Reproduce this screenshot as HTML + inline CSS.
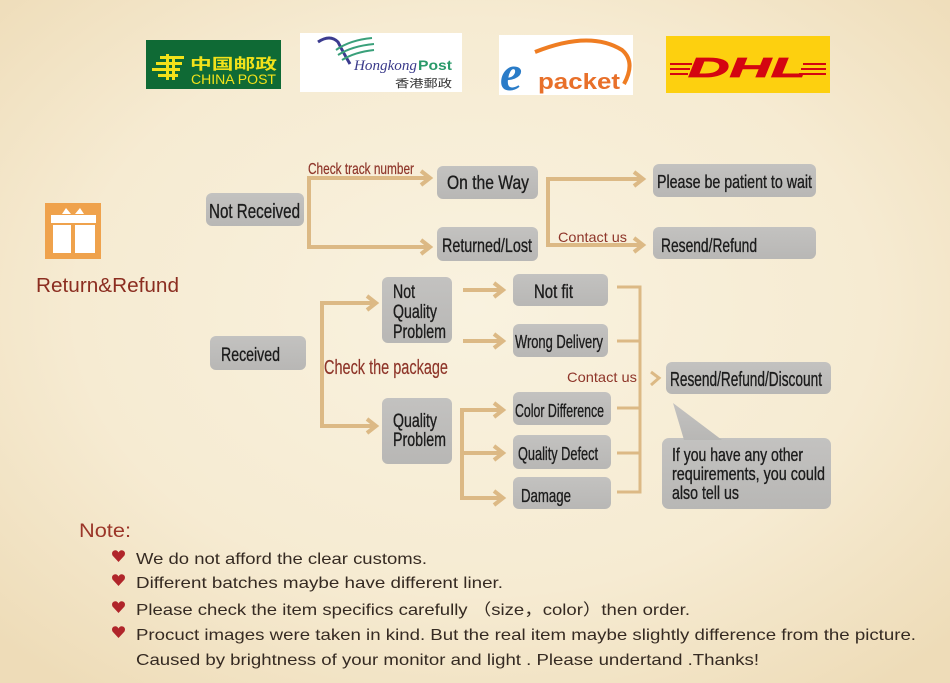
<!DOCTYPE html>
<html><head><meta charset="utf-8">
<style>
html,body{margin:0;padding:0;width:950px;height:683px;overflow:hidden;background:#f3e6c8;}
svg{display:block;}
.n{font-family:"Liberation Sans Narrow","Liberation Sans",Arial,sans-serif;fill:#1c1c1c;stroke:#1c1c1c;stroke-width:0.35;}
.r{font-family:"Liberation Sans Narrow","Liberation Sans",Arial,sans-serif;fill:#8e3529;stroke:#8e3529;stroke-width:0.2;}
.a{font-family:"Liberation Sans",Arial,sans-serif;}
</style></head>
<body>
<svg width="950" height="683" viewBox="0 0 950 683" xmlns="http://www.w3.org/2000/svg">
<defs>
<radialGradient id="bg" cx="50%" cy="45%" r="70%">
<stop offset="0" stop-color="#f9f2df"/>
<stop offset="0.6" stop-color="#f6ebd2"/>
<stop offset="1" stop-color="#eedcb8"/>
</radialGradient>
<linearGradient id="gb" x1="0" y1="0" x2="0" y2="1">
<stop offset="0" stop-color="#c3c2c0"/>
<stop offset="1" stop-color="#b8b7b5"/>
</linearGradient>
</defs>
<rect width="950" height="683" fill="url(#bg)"/>

<!-- China Post -->
<rect x="146" y="40" width="135" height="49" fill="#0f6a35"/>
<g fill="#f2e21a">
<rect x="160" y="56" width="24" height="3"/>
<rect x="156" y="62" width="26" height="3"/>
<rect x="152" y="68" width="28" height="3"/>
<rect x="158" y="74" width="20" height="3"/>
<rect x="166" y="54" width="3" height="26"/>
<rect x="172" y="59" width="3" height="21"/>
</g>
<text x="190" y="69" class="a" font-size="15" font-weight="bold" fill="#f2e21a" textLength="87" lengthAdjust="spacingAndGlyphs" style="font-family:'Liberation Sans','Noto Sans CJK SC',sans-serif">中国邮政</text>
<text x="191" y="84" class="a" font-size="13.5" fill="#f2e21a" textLength="85" lengthAdjust="spacingAndGlyphs">CHINA POST</text>

<!-- Hongkong Post -->
<rect x="300" y="33" width="162" height="59" fill="#ffffff"/>
<path d="M318 42 Q330 34 338 42 Q343 52 350 64" fill="none" stroke="#3b3b8f" stroke-width="3"/>
<path d="M336 50 Q350 40 372 38" fill="none" stroke="#3aa07a" stroke-width="2"/>
<path d="M338 55 Q352 46 374 44" fill="none" stroke="#3aa07a" stroke-width="2"/>
<path d="M342 60 Q355 52 374 50" fill="none" stroke="#3aa07a" stroke-width="2"/>
<text x="354" y="70" font-family="'Liberation Serif',serif" font-style="italic" font-size="15" fill="#3a3a8a" textLength="63" lengthAdjust="spacingAndGlyphs">Hongkong</text>
<text x="418" y="70" class="a" font-weight="bold" font-size="14" fill="#2a9a6a" textLength="34" lengthAdjust="spacingAndGlyphs">Post</text>
<text x="395" y="87" font-size="11" fill="#333" textLength="57" lengthAdjust="spacingAndGlyphs" style="font-family:'Liberation Sans','Noto Sans CJK TC',sans-serif">香港郵政</text>

<!-- ePacket -->
<rect x="499" y="35" width="134" height="60" fill="#ffffff"/>
<path d="M535 52 Q590 30 622 50 Q636 62 624 84" fill="none" stroke="#ef7d22" stroke-width="4"/>
<text x="500" y="90" font-family="'Liberation Serif',serif" font-style="italic" font-weight="bold" font-size="50" fill="#2a7cc8">e</text>
<text x="538" y="89" class="a" font-weight="bold" font-size="22" fill="#e8702a" textLength="82" lengthAdjust="spacingAndGlyphs">packet</text>

<!-- DHL -->
<rect x="666" y="36" width="164" height="57" fill="#fdd00f"/>
<g fill="#d40511">
<rect x="670" y="63" width="22" height="2"/>
<rect x="670" y="68" width="20" height="2"/>
<rect x="670" y="73" width="18" height="2"/>
<rect x="803" y="63" width="23" height="2"/>
<rect x="801" y="68" width="25" height="2"/>
<rect x="799" y="73" width="27" height="2"/>
</g>
<text x="688" y="77" class="a" font-weight="bold" font-style="italic" font-size="28" fill="#d40511" stroke="#d40511" stroke-width="0.8" textLength="118" lengthAdjust="spacingAndGlyphs">DHL</text>

<!-- Gift icon -->
<rect x="45" y="203" width="56" height="56" fill="#efa24c"/>
<g fill="#ffffff">
<rect x="51" y="215" width="45" height="8"/>
<rect x="53" y="225" width="18" height="28"/>
<rect x="75" y="225" width="20" height="28"/>
<path d="M62 214 L66 208 L71 214 Z"/>
<path d="M75 214 L80 208 L84 214 Z"/>
</g>
<text x="36" y="292" class="a" font-size="20.5" fill="#8b2d20" textLength="143" lengthAdjust="spacingAndGlyphs">Return&amp;Refund</text>

<!-- Connectors -->
<g fill="none" stroke="#dcb985" stroke-width="4" stroke-linejoin="miter">
<path d="M430 178 H309 V247 H430"/>
<path d="M421 171 L430 178 L421 185"/>
<path d="M421 240 L430 247 L421 254"/>
<path d="M643 179 H548 V245 H643"/>
<path d="M634 172 L643 179 L634 186"/>
<path d="M634 238 L643 245 L634 252"/>
<path d="M376 303 H322 V426 H376"/>
<path d="M367 296 L376 303 L367 310"/>
<path d="M367 419 L376 426 L367 433"/>
<path d="M463 290 H503"/>
<path d="M494 283 L503 290 L494 297"/>
<path d="M463 341 H503"/>
<path d="M494 334 L503 341 L494 348"/>
<path d="M503 410 H462 V498 H503"/>
<path d="M462 453 H503"/>
<path d="M494 403 L503 410 L494 417"/>
<path d="M494 446 L503 453 L494 460"/>
<path d="M494 491 L503 498 L494 505"/>
</g>
<g fill="none" stroke="#dcb985" stroke-width="3">
<path d="M617 287 H640 V492 H617"/>
<path d="M617 341 H640"/>
<path d="M617 408 H640"/>
<path d="M617 453 H640"/>
<path d="M651 372 L659 378 L651 385"/>
</g>

<!-- Connector labels -->
<text x="308" y="174" class="r" font-size="16" textLength="106" lengthAdjust="spacingAndGlyphs">Check track number</text>
<text x="558" y="242" class="a" font-size="14" fill="#8e3529" textLength="69" lengthAdjust="spacingAndGlyphs">Contact us</text>
<text x="324" y="374" class="r" font-size="20" textLength="124" lengthAdjust="spacingAndGlyphs">Check the package</text>
<text x="567" y="382" class="a" font-size="14" fill="#8e3529" textLength="70" lengthAdjust="spacingAndGlyphs">Contact us</text>

<!-- Boxes -->
<g fill="url(#gb)">
<rect x="206" y="193" width="98" height="33" rx="6"/>
<rect x="437" y="166" width="101" height="33" rx="6"/>
<rect x="437" y="227" width="101" height="34" rx="6"/>
<rect x="653" y="164" width="163" height="33" rx="6"/>
<rect x="653" y="227" width="163" height="32" rx="6"/>
<rect x="210" y="336" width="96" height="34" rx="6"/>
<rect x="382" y="277" width="70" height="66" rx="6"/>
<rect x="382" y="398" width="70" height="66" rx="6"/>
<rect x="513" y="274" width="95" height="32" rx="6"/>
<rect x="513" y="324" width="95" height="33" rx="6"/>
<rect x="513" y="392" width="98" height="33" rx="6"/>
<rect x="513" y="435" width="98" height="34" rx="6"/>
<rect x="513" y="477" width="98" height="32" rx="6"/>
<rect x="666" y="362" width="165" height="32" rx="6"/>
<rect x="662" y="438" width="169" height="71" rx="7"/>
<path d="M673 403 L684 440 L722 440 Z"/>
</g>

<!-- Box text -->
<text x="209" y="218" class="n" font-size="20.5" textLength="91" lengthAdjust="spacingAndGlyphs">Not Received</text>
<text x="447" y="189" class="n" font-size="19.5" textLength="82" lengthAdjust="spacingAndGlyphs">On the Way</text>
<text x="442" y="252" class="n" font-size="19.5" textLength="90" lengthAdjust="spacingAndGlyphs">Returned/Lost</text>
<text x="657" y="188" class="n" font-size="18.5" textLength="155" lengthAdjust="spacingAndGlyphs">Please  be patient to wait</text>
<text x="661" y="252" class="n" font-size="19.5" textLength="96" lengthAdjust="spacingAndGlyphs">Resend/Refund</text>
<text x="221" y="361" class="n" font-size="19.5" textLength="59" lengthAdjust="spacingAndGlyphs">Received</text>
<text x="393" y="298" class="n" font-size="19" textLength="22" lengthAdjust="spacingAndGlyphs">Not</text>
<text x="393" y="318" class="n" font-size="19" textLength="44" lengthAdjust="spacingAndGlyphs">Quality</text>
<text x="393" y="338" class="n" font-size="19" textLength="53" lengthAdjust="spacingAndGlyphs">Problem</text>
<text x="393" y="427" class="n" font-size="19" textLength="44" lengthAdjust="spacingAndGlyphs">Quality</text>
<text x="393" y="446" class="n" font-size="19" textLength="53" lengthAdjust="spacingAndGlyphs">Problem</text>
<text x="534" y="298" class="n" font-size="19" textLength="39" lengthAdjust="spacingAndGlyphs">Not fit</text>
<text x="515" y="348" class="n" font-size="18.5" textLength="88" lengthAdjust="spacingAndGlyphs">Wrong Delivery</text>
<text x="515" y="417" class="n" font-size="18.5" textLength="89" lengthAdjust="spacingAndGlyphs">Color Difference</text>
<text x="518" y="460" class="n" font-size="18.5" textLength="80" lengthAdjust="spacingAndGlyphs">Quality Defect</text>
<text x="521" y="502" class="n" font-size="18.5" textLength="50" lengthAdjust="spacingAndGlyphs">Damage</text>
<text x="670" y="386" class="n" font-size="20" textLength="152" lengthAdjust="spacingAndGlyphs">Resend/Refund/Discount</text>
<text x="672" y="461" class="n" font-size="18.5" textLength="131" lengthAdjust="spacingAndGlyphs">If you have any other</text>
<text x="672" y="480" class="n" font-size="18.5" textLength="153" lengthAdjust="spacingAndGlyphs">requirements, you could</text>
<text x="672" y="499" class="n" font-size="18.5" textLength="67" lengthAdjust="spacingAndGlyphs">also tell us</text>

<!-- Notes -->
<text x="79" y="537" class="a" font-size="19" fill="#9b3528" textLength="52" lengthAdjust="spacingAndGlyphs">Note:</text>
<g fill="#b0252a">
<path d="M118.5 562 L112.5 555.5 Q111 552 114 550.5 Q117 549.5 118.5 552.5 Q120 549.5 123 550.5 Q126 552 124.5 555.5 Z"/>
<path d="M118.5 586 L112.5 579.5 Q111 576 114 574.5 Q117 573.5 118.5 576.5 Q120 573.5 123 574.5 Q126 576 124.5 579.5 Z"/>
<path d="M118.5 613 L112.5 606.5 Q111 603 114 601.5 Q117 600.5 118.5 603.5 Q120 600.5 123 601.5 Q126 603 124.5 606.5 Z"/>
<path d="M118.5 638 L112.5 631.5 Q111 628 114 626.5 Q117 625.5 118.5 628.5 Q120 625.5 123 626.5 Q126 628 124.5 631.5 Z"/>
</g>
<g class="a" font-size="16" fill="#352a22">
<text x="136" y="564" textLength="291" lengthAdjust="spacingAndGlyphs">We do not afford the clear customs.</text>
<text x="136" y="588" textLength="367" lengthAdjust="spacingAndGlyphs">Different batches maybe have different liner.</text>
<text x="136" y="615" textLength="554" lengthAdjust="spacingAndGlyphs" style="font-family:'Liberation Sans','Noto Sans CJK SC',sans-serif">Please check the item specifics carefully （size，color）then order.</text>
<text x="136" y="640" textLength="780" lengthAdjust="spacingAndGlyphs">Procuct images were taken in kind. But the real item maybe slightly difference from the picture.</text>
<text x="136" y="665" textLength="623" lengthAdjust="spacingAndGlyphs">Caused by brightness of your monitor and light . Please undertand .Thanks!</text>
</g>
</svg>
</body></html>
